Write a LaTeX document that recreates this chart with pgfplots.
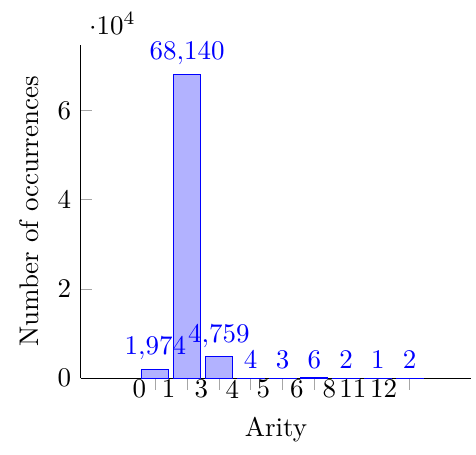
\documentclass[border=0pt]{standalone}
\usepackage{pgfplots}
\pgfplotsset{compat=1.18}
\begin{document}
\begin{tikzpicture}
\begin{axis}[
  scale only axis,
  width=145pt, height=123.7pt,
  ybar, bar width=10pt,
  axis lines*=left,
  xmin=-2.35, xmax=9.94,
  ymin=0, ymax=74800,
  ytick={0,20000,40000,60000},
  xtick={0,1,2,3,4,5,6,7,8},
  xticklabels={},
  extra x ticks={-0.5,0.42,1.45,2.42,3.4,4.45,5.47,6.21,7.18},
  extra x tick labels={0,1,3,4,5,6,8,11,12},
  extra x tick style={major tick length=0pt},
  x tick label style={yshift=0.1cm},
  xtick align=outside,
  ytick align=inside,
  tick style={color=black!35},
  xlabel={Arity},
  xlabel style={yshift=4pt},
  ylabel={Number of occurrences},
  nodes near coords,
  every node near coord/.append style={blue},
]
\addplot[draw=blue, fill=blue!30] coordinates {
  (0,1974) (1,68140) (2,4759) (3,4) (4,3) (5,6) (6,2) (7,1) (8,2)
};
\end{axis}
\path (current bounding box.north west) ++(-4pt,4.5pt) coordinate (a);
\path (current bounding box.south east) ++(1.5pt,-1pt) coordinate (b);
\path (a) (b);
\end{tikzpicture}
\end{document}
